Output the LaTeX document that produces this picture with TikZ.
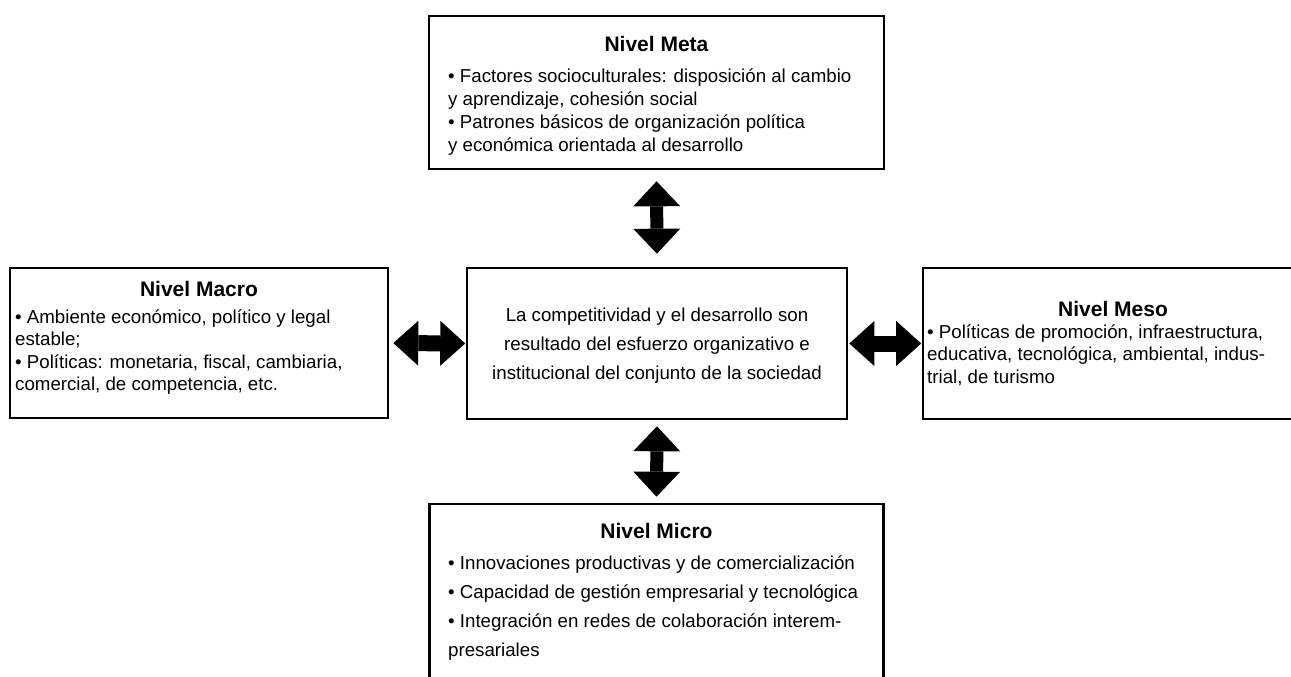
\documentclass[tikz,border=0pt]{standalone}
\usepackage{fontspec}
\setmainfont{Liberation Sans}
\usetikzlibrary{arrows.meta}
\begin{document}
\begin{tikzpicture}[x=1pt,y=-1pt,
  box/.style={draw, line width=2.6pt, inner sep=0pt},
  body/.style={anchor=base west, inner sep=0pt, font=\fontsize{18.7}{22}\selectfont},
  cbody/.style={anchor=base, inner sep=0pt, font=\fontsize{18.7}{22}\selectfont},
  ttl/.style={anchor=base, inner sep=0pt, font=\fontsize{21}{25}\selectfont\bfseries},
  tipv/.tip={Triangle[length=25pt,width=47pt,line width=0pt]},
  tiph/.tip={Triangle[length=25pt,width=45pt,line width=0pt]},
  dblv/.style={line width=13pt, tipv-tipv},
  dblh/.style={line width=16pt, tiph-tiph}
]
\useasboundingbox (0,0) rectangle (1291,677);
\clip (0,0) rectangle (1291,677);

% boxes
\node[box, minimum width=455pt, minimum height=153pt] (meta)   at (656.5,92.5) {};
\node[box, minimum width=378pt, minimum height=150pt] (macro)  at (199,343) {};
\node[box, minimum width=380pt, minimum height=151pt] (center) at (657,343.5) {};
\node[box, minimum width=380pt, minimum height=151pt] (meso)   at (1113,343.5) {};
\node[box, minimum width=454pt, minimum height=220pt] (micro)  at (656.5,614) {};

% connectors
\draw[dblv, shorten <=11pt, shorten >=13pt] (meta.south) -- (center.north);
\draw[dblv, shorten <=6pt, shorten >=6pt] (center.south) -- (micro.north);
\draw[dblh, shorten <=4pt, shorten >=0.5pt] (macro.east) -- (center.west);
\draw[dblh, shorten <=1pt, shorten >=0.5pt] (center.east) -- (meso.west);

% Meta text
\node[ttl] (metaT) at (656.5,51.5) {Nivel Meta};
\node[body] (meta1) at (448,83) {• Factores socioculturales: disposición al cambio};
\node[body] (meta2) at (448,105.5) {y aprendizaje, cohesión social};
\node[body] (meta3) at (448,128.5) {• Patrones básicos de organización política};
\node[body] (meta4) at (448,151) {y económica orientada al desarrollo};

% Macro text
\node[ttl] (macroT) at (199,296.5) {Nivel Macro};
\node[body] (macro1) at (15,323) {• Ambiente económico, político y legal};
\node[body] (macro2) at (15,345.5) {estable;};
\node[body] (macro3) at (15,368) {• Políticas: monetaria, fiscal, cambiaria,};
\node[body] (macro4) at (15,390.5) {comercial, de competencia, etc.};

% Center text
\node[cbody] (center1) at (657,321) {La competitividad y el desarrollo son};
\node[cbody] (center2) at (657,350) {resultado del esfuerzo organizativo e};
\node[cbody] (center3) at (657,379) {institucional del conjunto de la sociedad};

% Meso text
\node[ttl] (mesoT) at (1113,316.5) {Nivel Meso};
\node[body] (meso1) at (927,338) {• Políticas de promoción, infraestructura,};
\node[body] (meso2) at (927,360.5) {educativa, tecnológica, ambiental, indus-};
\node[body] (meso3) at (927,383) {trial, de turismo};

% Micro text
\node[ttl] (microT) at (656.5,538.5) {Nivel Micro};
\node[body] (micro1) at (448,569.5) {• Innovaciones productivas y de comercialización};
\node[body] (micro2) at (448,598.5) {• Capacidad de gestión empresarial y tecnológica};
\node[body] (micro3) at (448,627.5) {• Integración en redes de colaboración interem-};
\node[body] (micro4) at (448,656.5) {presariales};
\end{tikzpicture}
\end{document}
